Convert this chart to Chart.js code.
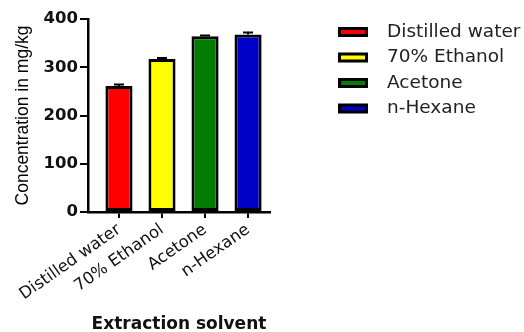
<!DOCTYPE html>
<html>
<head>
<meta charset="utf-8">
<script src="https://cdn.jsdelivr.net/npm/chart.js@4.4.1/dist/chart.umd.min.js"></script>
<style>
  html, body { margin: 0; padding: 0; background: #fff; }
  #wrap { width: 524px; height: 332px; }
</style>
</head>
<body>
<div id="wrap"><canvas id="myChart" width="524" height="332"></canvas></div>
<script>
const categories = ['Distilled water', '70% Ethanol', 'Acetone', 'n-Hexane'];
const concentrations = [261, 317, 364, 368];
const errors = [3, 2, 2, 4];
const barColors = ['#ff0000', '#ffff00', '#007c00', '#0000c8'];
const yTicks = [0, 100, 200, 300, 400];

// error bars: only the upper half shows above the bar
const errorBars = {
  id: 'errorBars',
  afterDatasetsDraw(chart) {
    const ctx = chart.ctx;
    const meta = chart.getDatasetMeta(0);
    const y = chart.scales.y;
    ctx.save();
    ctx.strokeStyle = '#000';
    ctx.lineWidth = 2;
    meta.data.forEach((bar, i) => {
      const top = y.getPixelForValue(concentrations[i] + errors[i]);
      const base = y.getPixelForValue(concentrations[i]);
      ctx.beginPath();
      ctx.moveTo(bar.x, base);
      ctx.lineTo(bar.x, top);
      ctx.moveTo(bar.x - 5, top);
      ctx.lineTo(bar.x + 5, top);
      ctx.stroke();
    });
    ctx.restore();
  }
};

// legend on the right, away from the plot
const sideLegend = {
  id: 'sideLegend',
  afterDraw(chart) {
    const ctx = chart.ctx;
    ctx.save();
    ctx.font = '18.5px "DejaVu Sans"';
    ctx.textBaseline = 'middle';
    categories.forEach((name, i) => {
      const cy = 32 + i * 25.5;
      ctx.fillStyle = '#000';
      ctx.fillRect(338, cy - 5, 30, 10);
      ctx.fillStyle = barColors[i];
      ctx.fillRect(341, cy - 2, 24, 4);
      ctx.fillStyle = '#222';
      ctx.fillText(name, 387, cy);
    });
    ctx.restore();
  }
};

const ctx = document.getElementById('myChart');
new Chart(ctx, {
  type: 'bar',
  data: {
    datasets: [{
      data: concentrations.map((v, i) => ({ x: i, y: v })),
      backgroundColor: barColors,
      borderColor: '#000',
      borderWidth: 3,
      borderSkipped: false,
      barPercentage: 0.63,
      categoryPercentage: 1
    }]
  },
  options: {
    responsive: false,
    animation: false,
    layout: { padding: { left: 13, right: 254, top: 19, bottom: 0 } },
    plugins: {
      legend: { display: false },
      tooltip: { enabled: false }
    },
    scales: {
      x: {
        type: 'linear',
        offset: false,
        min: -0.72,
        max: 3.51,
        afterBuildTicks: (scale) => {
          scale.ticks = categories.map((c, i) => ({ value: i }));
        },
        afterFit: (scale) => { scale.height = 332 - 212; },
        border: { color: '#000', width: 2.5 },
        grid: { offset: false, drawOnChartArea: false, color: '#000', tickLength: 6, lineWidth: 2 },
        ticks: {
          autoSkip: false,
          minRotation: 35,
          maxRotation: 35,
          padding: 2,
          color: '#111',
          font: { family: 'DejaVu Sans', size: 16.5 },
          callback: (v) => categories[v] ?? ''
        },
        title: {
          display: true,
          text: 'Extraction solvent',
          color: '#111',
          font: { family: 'DejaVu Sans', size: 17, weight: 'bold', lineHeight: 0.9 },
          padding: { top: 0, bottom: 0 }
        }
      },
      y: {
        min: 0,
        max: 400,
        afterBuildTicks: (scale) => {
          scale.ticks = yTicks.map(v => ({ value: v }));
        },
        afterFit: (scale) => { scale.width = 88 - 13; },
        border: { color: '#000', width: 2.5 },
        grid: { drawOnChartArea: false, color: '#000', tickLength: 8, lineWidth: 2 },
        ticks: {
          padding: 2,
          color: '#111',
          font: { family: 'DejaVu Sans', size: 16.5, weight: 'bold' }
        },
        title: {
          display: true,
          text: 'Concentration in mg/kg',
          color: '#000',
          font: { family: 'Liberation Sans', size: 17.5 },
          padding: 0
        }
      }
    }
  },
  plugins: [errorBars, sideLegend]
});
</script>
</body>
</html>
